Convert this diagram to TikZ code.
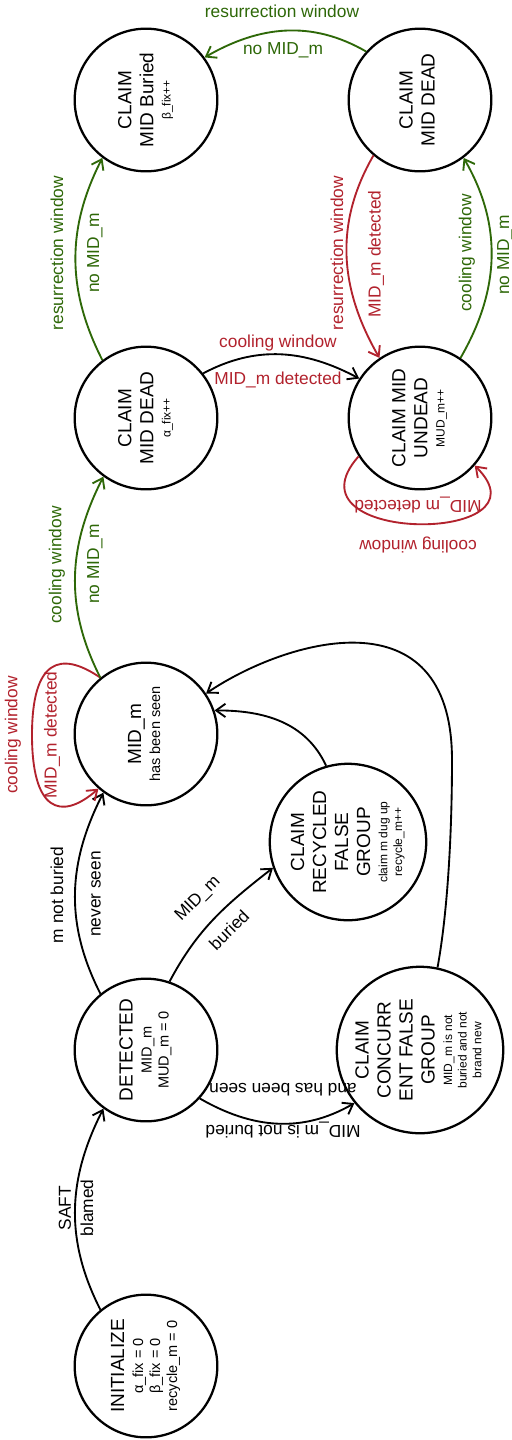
\documentclass[tikz,border=0pt]{standalone}
\usepackage{fontspec}
\setmainfont{Liberation Sans}
\usetikzlibrary{arrows.meta}
\definecolor{grn}{RGB}{46,104,8}
\definecolor{rd}{RGB}{178,34,45}
% line helpers: big, medium and small lines with fixed baseline spacing
\newcommand\BL[1]{\rule[-5.5pt]{0pt}{16.5pt}{\fontsize{14.25}{16.5}\selectfont #1}}
\newcommand\ML[1]{\rule[-4pt]{0pt}{12.75pt}{\fontsize{10.9}{12.75}\selectfont #1}}
\newcommand\SL[1]{\rule[-3.5pt]{0pt}{11pt}{\fontsize{9}{11}\selectfont #1}}
\newcommand\vtext[1]{\rotatebox{90}{\renewcommand\arraystretch{0}\begin{tabular}{@{}c@{}}#1\end{tabular}}}
\tikzset{
  state/.style={circle, draw, line width=1.7pt, minimum size=107pt, inner sep=0pt},
  edge/.style={line width=1.4pt, -{Straight Barb[length=7pt,width=10pt]}},
  lab/.style={inner sep=0pt, font=\fontsize{13}{15}\selectfont},
}
\begin{document}
\begin{tikzpicture}[x=0.75pt,y=0.75pt]
\fill[white] (0,0) rectangle (511,-1440);
\useasboundingbox (0,0) rectangle (511,-1440);

% states
\node[state] (B)  at (146,-100)  {\vtext{\BL{CLAIM}\\\BL{MID Buried}\\\SL{β\_fix++}}};
\node[state] (D2) at (420,-100)  {\vtext{\BL{CLAIM}\\\BL{MID DEAD}}};
\node[state] (D1) at (146,-418)  {\vtext{\BL{CLAIM}\\\BL{MID DEAD}\\\SL{α\_fix++}}};
\node[state] (U)  at (420,-418)  {\vtext{\BL{CLAIM MID}\\\BL{UNDEAD}\\\SL{MUD\_m++}}};
\node[state] (S)  at (146,-734)  {\vtext{\BL{MID\_m}\\\ML{has been seen}}};
\node[state] (R)  at (348,-842)  {\vtext{\BL{CLAIM}\\\BL{RECYCLED}\\\BL{FALSE}\\\BL{GROUP}\\\SL{claim m dug up}\\\SL{recycle\_m++}}};
\node[state] (DT) at (146,-1050) {\vtext{\BL{DETECTED}\\\ML{MID\_m}\\\ML{MUD\_m = 0}}};
\node[state] (C)  at (420,-1050) {\vtext{\BL{CLAIM}\\\BL{CONCURR}\\\BL{ENT FALSE}\\\BL{GROUP}\\\SL{MID\_m is not}\\\SL{buried and not}\\\SL{brand new}}};
\node[state] (I)  at (146,-1366) {\vtext{\BL{INITIALIZE}\\\ML{α\_fix = 0}\\\ML{β\_fix = 0}\\\ML{recycle\_m = 0}}};

% transitions
\draw[edge] (I.129)  to[out=117,in=243] (DT.234);
\draw[edge] (DT.129) to[out=117,in=243] (S.234);
\draw[edge] (DT.71)  to[out=62,in=218]  (R.199);
\draw[edge] (DT.318) to[out=-30,in=210] (C.219);
\draw[edge] (R.106)  to[out=115,in=0]   (S.19);
\draw[edge] (C.78) .. controls (448,-910) and (452,-830) .. (452,-760)
                   .. controls (452,-590) and (285,-640) .. (S.34);
\draw[edge, rd]  (S.129) .. controls (60,-650) and (32,-660) .. (32,-735)
                         .. controls (32,-810) and (60,-822) .. (S.229);
\draw[edge, grn] (S.129)  to[out=117,in=243] (D1.234);
\draw[edge, grn] (D1.127) to[out=117,in=243] (B.233);
\draw[edge]      (D1.38)  to[out=28,in=152]  (U.147);
\draw[edge, grn] (D2.138) to[out=150,in=30]  (B.36);
\draw[edge, rd]  (D2.230) to[out=240,in=120] (U.124);
\draw[edge, grn] (U.56)   to[out=60,in=300]  (D2.307);
\draw[edge, rd]  (U.212) .. controls (280,-545) and (555,-545) .. (U.319);

% transition labels
\node[lab, text=grn] (l1) at (282,-11) {resurrection window};
\node[lab, text=grn] (l2) at (283,-50) {no MID\_m};
\node[lab, text=grn, rotate=90] (l3) at (57,-253) {resurrection window};
\node[lab, text=grn, rotate=90] (l4) at (95,-253) {no MID\_m};
\node[lab, text=rd] (l5) at (278,-343) {cooling window};
\node[lab, text=rd] (l6) at (278,-380) {MID\_m detected};
\node[lab, text=rd, rotate=90] (l7) at (337,-253) {resurrection window};
\node[lab, text=rd, rotate=90] (l8) at (376,-254) {MID\_m detected};
\node[lab, text=grn, rotate=90] (l9) at (467,-253) {cooling window};
\node[lab, text=grn, rotate=90] (l10) at (505,-255) {no MID\_m};
\node[lab, text=rd, rotate=180] (l11) at (418,-505) {MID\_m detected};
\node[lab, text=rd, rotate=180] (l12) at (418,-545) {cooling window};
\node[lab, text=grn, rotate=90] (l13) at (57,-565) {cooling window};
\node[lab, text=grn, rotate=90] (l14) at (95,-564) {no MID\_m};
\node[lab, text=rd, rotate=90] (l15) at (52,-735) {MID\_m detected};
\node[lab, text=rd, rotate=90] (l16) at (13,-735) {cooling window};
\node[lab, rotate=90] (l17) at (57,-895) {m not buried};
\node[lab, rotate=90] (l18) at (96,-894) {never seen};
\node[lab, rotate=45] (l19) at (198,-899) {MID\_m};
\node[lab, rotate=45] (l20) at (229,-930) {buried};
\node[lab, rotate=180] (l21) at (283,-1090) {and has been seen};
\node[lab, rotate=180] (l22) at (283,-1130) {MID\_m is not buried};
\node[lab, rotate=90] (l23) at (65,-1208) {SAFT};
\node[lab, rotate=90] (l24) at (87,-1208) {blamed};
\end{tikzpicture}
\end{document}
